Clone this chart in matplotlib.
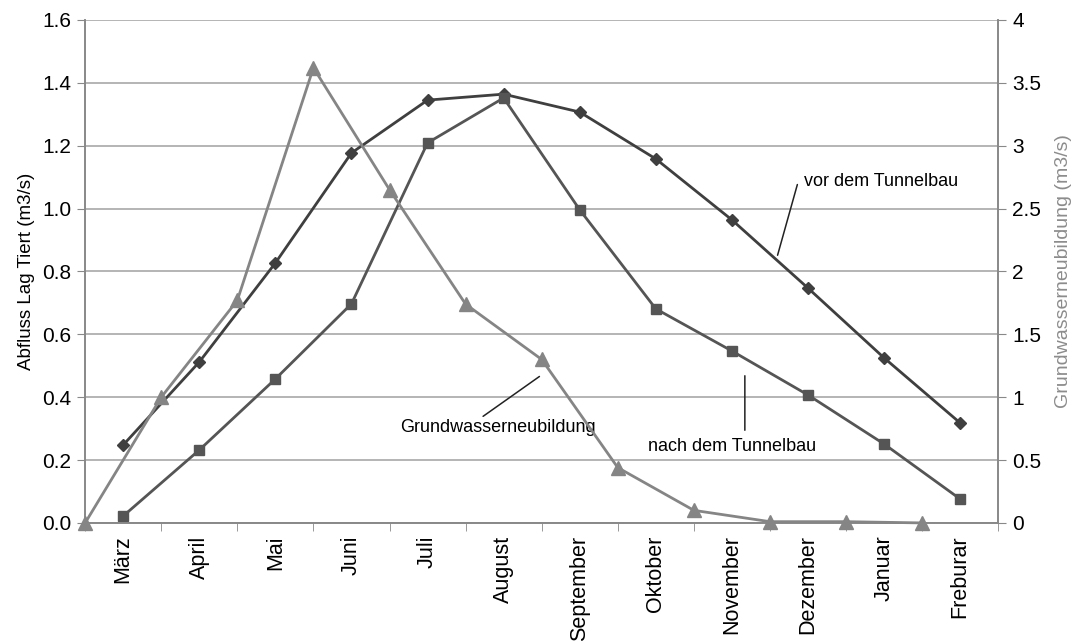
import numpy as np
import matplotlib
matplotlib.use("Agg")
import matplotlib.pyplot as plt
from matplotlib.ticker import FuncFormatter, FixedLocator

plt.rcParams["font.family"] = ["Liberation Sans", "DejaVu Sans"]

months = ["März", "April", "Mai", "Juni", "Juli", "August", "September",
          "Oktober", "November", "Dezember", "Januar", "Freburar"]
vor = [0.248, 0.512, 0.827, 1.177, 1.345, 1.364, 1.307, 1.158, 0.964, 0.747, 0.525, 0.318]
nach = [0.022, 0.232, 0.458, 0.697, 1.209, 1.352, 0.996, 0.681, 0.547, 0.407, 0.251, 0.076]
gwn = [0.0, 1.0, 1.77, 3.62, 2.65, 1.74, 1.30, 0.44, 0.10, 0.01, 0.01, 0.0]

x = np.arange(len(months))
x_gwn = x - 0.5  # groundwater values sit on the category boundaries

fig = plt.figure(figsize=(10.78, 6.44), dpi=100)
ax = fig.add_axes([0.079, 0.188, 0.847, 0.781])
ax2 = ax.twinx()

grid_col = "#a8a8a8"
ax.set_ylim(0, 1.6)
ax.set_xlim(-0.5, 11.5)
ax.set_yticks(np.arange(0, 1.61, 0.2))
ax.yaxis.set_major_formatter(FuncFormatter(lambda v, p: "%.1f" % v))
ax.yaxis.grid(True, color=grid_col, linewidth=1.2)
ax.set_axisbelow(True)

ax.set_xticks(x)
ax.set_xticklabels(months, rotation=90, fontsize=15.5)
ax.xaxis.set_minor_locator(FixedLocator(np.arange(-0.5, 11.6, 1)))
ax.tick_params(axis="x", which="major", length=0, pad=9)
ax.tick_params(axis="x", which="minor", length=6, color="#888888", direction="out")
ax.tick_params(axis="y", labelsize=15, length=6, color="#888888", direction="out", pad=4)

for a in (ax, ax2):
    a.spines["top"].set_visible(False)
    for s in ["left", "right", "bottom"]:
        a.spines[s].set_color("#888888")
        a.spines[s].set_linewidth(1.2)

ax.set_ylabel("Abfluss Lag Tiert (m3/s)", fontsize=13.5, labelpad=5)

ax2.set_ylim(0, 4)
ax2.set_yticks(np.arange(0, 4.01, 0.5))
ax2.yaxis.set_major_formatter(FuncFormatter(lambda v, p: "%g" % v))
ax2.tick_params(axis="y", labelsize=15, length=6, color="#888888", direction="out", pad=4)
ax2.set_ylabel("Grundwasserneubildung (m3/s)", fontsize=14, color="#8c8c8c", labelpad=10)

ax.plot(x, vor, color="#3f3f3f", linewidth=2.0, marker="D", markersize=6, zorder=4)
ax.plot(x, nach, color="#555555", linewidth=2.0, marker="s", markersize=7.5, zorder=4)
ax2.plot(x_gwn, gwn, color="#858585", linewidth=2.0, marker="^", markersize=10,
         zorder=3, clip_on=False)

# callout labels
ax.annotate("", xy=(8.59, 0.843), xytext=(8.87, 1.085),
            arrowprops=dict(arrowstyle="-", color="#222222", linewidth=1.1))
ax.text(8.95, 1.085, "vor dem Tunnelbau", fontsize=13, va="center", ha="left")

ax.annotate("", xy=(8.17, 0.477), xytext=(8.17, 0.286),
            arrowprops=dict(arrowstyle="-", color="#222222", linewidth=1.1))
ax.text(8.0, 0.242, "nach dem Tunnelbau", fontsize=13, va="center", ha="center")

ax.annotate("", xy=(5.5, 0.471), xytext=(4.70, 0.334),
            arrowprops=dict(arrowstyle="-", color="#222222", linewidth=1.1))
ax.text(4.93, 0.302, "Grundwasserneubildung", fontsize=13, va="center", ha="center")

fig.savefig("out.png", dpi=100)
